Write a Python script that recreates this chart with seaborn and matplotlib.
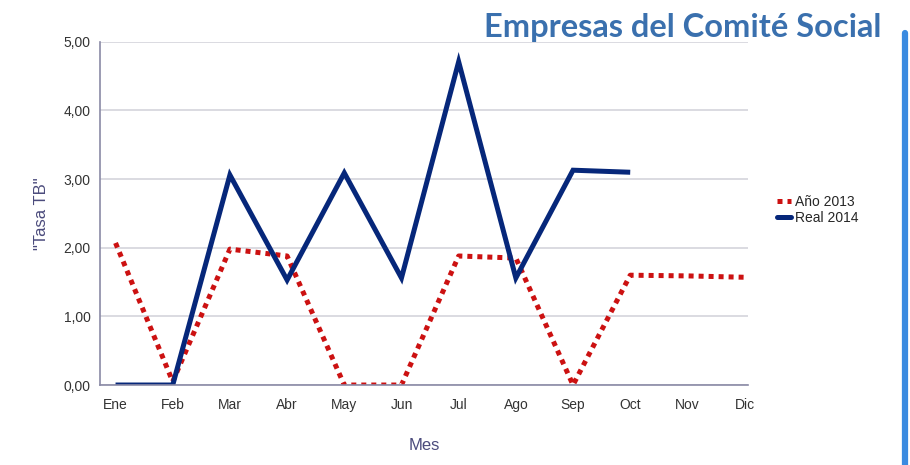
import numpy as np
import pandas as pd
import seaborn as sns
import matplotlib.pyplot as plt
from matplotlib.lines import Line2D

meses = ['Ene', 'Feb', 'Mar', 'Abr', 'May', 'Jun', 'Jul', 'Ago', 'Sep', 'Oct', 'Nov', 'Dic']
anio_2013 = [2.07, 0.05, 1.98, 1.88, 0.0, 0.0, 1.88, 1.85, 0.0, 1.60, 1.59, 1.57]
real_2014 = [0.0, 0.0, 3.06, 1.53, 3.09, 1.56, 4.71, 1.56, 3.13, 3.10]
y_ticks = [0, 1, 2, 3, 4, 5]

navy = '#06277a'
red = '#cc1111'
label_col = '#4b4b7c'

sns.set_theme(style='white')
plt.rcParams['font.family'] = ['Liberation Sans Narrow', 'Liberation Sans', 'DejaVu Sans']

fig = plt.figure(figsize=(9.1, 4.65), dpi=100)
ax = fig.add_axes([0.11, 0.172, 0.712, 0.738])

df13 = pd.DataFrame({'x': np.arange(len(anio_2013)), 'y': anio_2013})
df14 = pd.DataFrame({'x': np.arange(len(real_2014)), 'y': real_2014})

sns.lineplot(data=df13, x='x', y='y', ax=ax, color=red, linewidth=3.6,
             linestyle=(0, (1, 1)), dash_capstyle='butt', solid_joinstyle='round')
sns.lineplot(data=df14, x='x', y='y', ax=ax, color=navy, linewidth=3.6,
             solid_capstyle='butt', solid_joinstyle='miter')

ax.set_xlim(-0.27, 11.06)
ax.set_ylim(0, 5)
ax.set_yticks(y_ticks)
ax.set_yticklabels([f'{v:.2f}'.replace('.', ',') for v in y_ticks], fontsize=10, color='#333333')
ax.set_xticks(range(len(meses)))
ax.set_xticklabels(meses, fontsize=10, color='#333333')
ax.tick_params(axis='y', length=0, pad=7)
ax.tick_params(axis='x', length=0, pad=9)
ax.yaxis.grid(True, color='#d4d4dc', linewidth=1.2)
ax.set_axisbelow(True)

for s in ['top', 'right']:
    ax.spines[s].set_visible(False)
ax.spines['left'].set_color('#8a8aa6')
ax.spines['bottom'].set_color('#8a8aa6')
ax.spines['left'].set_linewidth(1.2)
ax.spines['bottom'].set_linewidth(1.2)

ax.set_xlabel('Mes', fontsize=12, color=label_col, labelpad=19)
ax.set_ylabel('"Tasa TB"', fontsize=12, color=label_col, labelpad=10)

handles = [Line2D([0], [0], color=red, linewidth=3.6, linestyle=(0, (1, 1)), dash_capstyle='butt'),
           Line2D([0], [0], color=navy, linewidth=3.6)]
ax.legend(handles, ['Año 2013', 'Real 2014'], loc='center left', bbox_to_anchor=(1.025, 0.51),
          frameon=False, fontsize=10, handlelength=1.0, handletextpad=0.3, labelspacing=0.1)

fig.text(0.969, 0.94, 'Empresas del Comité Social', ha='right', va='center',
         fontsize=23.5, fontweight='bold', color='#3a70ae', family=['Lato', 'DejaVu Sans'])
fig.add_artist(Line2D([0.9945, 0.9945], [0.0, 0.93], transform=fig.transFigure,
                      color='#3a8ae0', linewidth=4.5))

fig.savefig('out.png', dpi=100)
